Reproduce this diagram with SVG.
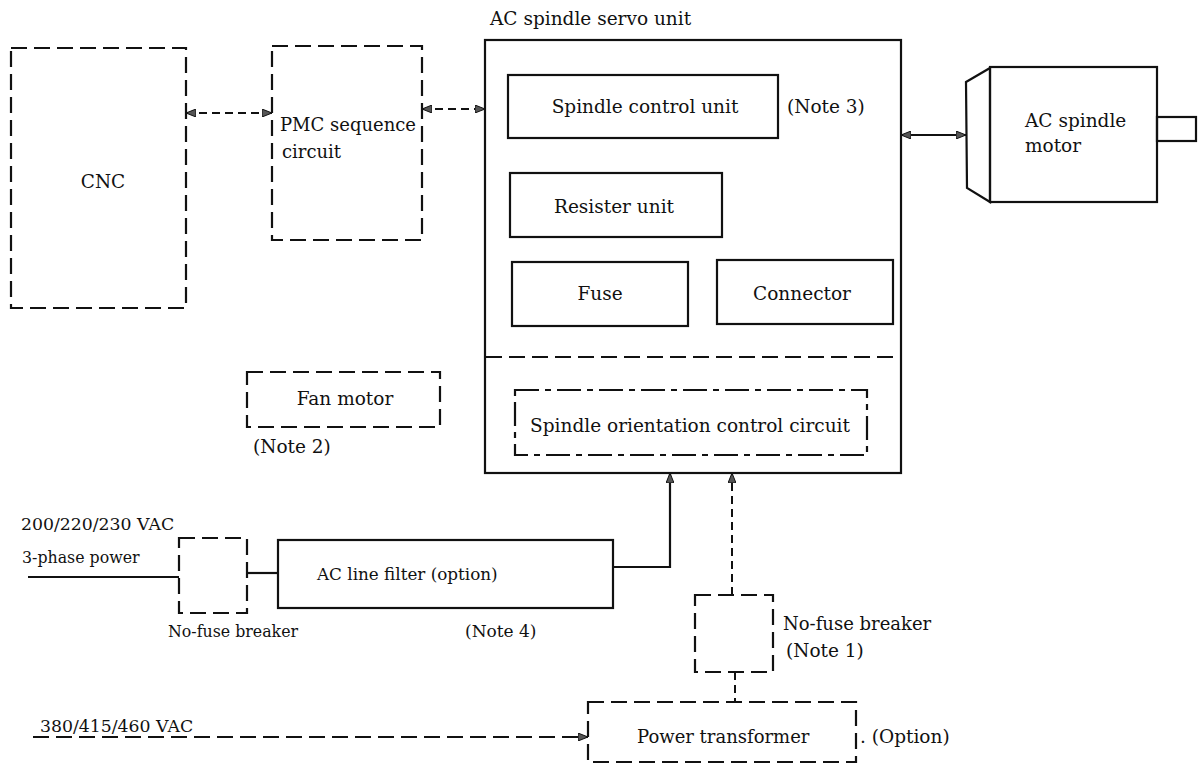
<svg xmlns="http://www.w3.org/2000/svg" width="1201" height="768" viewBox="0 0 1201 768">
<style>
text{font-family:"DejaVu Serif","Liberation Serif",serif;font-size:18.5px;fill:#111}
.s{fill:none;stroke:#111;stroke-width:2.2}
.d{fill:none;stroke:#111;stroke-width:2.2;stroke-dasharray:16 7}
.dd{fill:none;stroke:#111;stroke-width:2.2;stroke-dasharray:24 6 6 6}
.cd{fill:none;stroke:#111;stroke-width:2;stroke-dasharray:8 5}
.m{text-anchor:middle}
</style>
<defs>
<marker id="ah" viewBox="0 0 10 8" refX="10" refY="4" markerWidth="10" markerHeight="8" markerUnits="userSpaceOnUse" orient="auto-start-reverse">
<path d="M0,0 L10,4 L0,8 Z" fill="#555" stroke="#111" stroke-width="1"/>
</marker>
</defs>
<rect width="1201" height="768" fill="#fff"/>

<g id="cnc"><rect class="d" x="11" y="48" width="175" height="260"/><text class="m" x="103" y="188">CNC</text></g>
<g id="pmc"><rect class="d" x="272" y="46" width="150" height="194"/><text x="280" y="131" style="font-size:18px">PMC sequence</text><text x="282" y="158" style="font-size:18px">circuit</text></g>

<g id="servo">
<rect class="s" x="485" y="40" width="416" height="433"/>
<text x="490" y="25">AC spindle servo unit</text>
<line class="d" x1="486" y1="357" x2="900" y2="357"/>
</g>
<g id="spindle-control"><rect class="s" x="508" y="75" width="270" height="63"/><text class="m" x="645" y="113">Spindle control unit</text><text x="787" y="113">(Note 3)</text></g>
<g id="resister"><rect class="s" x="510" y="173" width="212" height="64"/><text class="m" x="614" y="213">Resister unit</text></g>
<g id="fuse"><rect class="s" x="512" y="262" width="176" height="64"/><text class="m" x="600" y="300">Fuse</text></g>
<g id="connector"><rect class="s" x="717" y="260" width="176" height="64"/><text class="m" x="802" y="300">Connector</text></g>
<g id="orientation"><rect class="dd" x="515" y="390" width="352" height="65"/><text class="m" x="690" y="432">Spindle orientation control circuit</text></g>

<g id="motor">
<path class="s" d="M966,82 L990,68 L990,202 L967,188 Z"/>
<rect class="s" x="990" y="67" width="167" height="135"/>
<rect class="s" x="1157" y="117" width="39" height="24"/>
<text x="1025" y="127">AC spindle</text><text x="1025" y="152">motor</text>
</g>

<g id="fan"><rect class="d" x="247" y="372" width="193" height="55"/><text class="m" x="345" y="405">Fan motor</text><text x="253" y="453">(Note 2)</text></g>

<g id="power-in"><text x="21" y="530" style="font-size:17.3px">200/220/230 VAC</text><text x="22" y="563" style="font-size:15.8px">3-phase power</text></g>
<g id="breaker1"><rect class="d" x="179" y="538" width="68" height="75"/><text x="168" y="637" style="font-size:15.8px">No-fuse breaker</text></g>
<g id="filter"><rect class="s" x="278" y="540" width="335" height="68"/><text x="317" y="580" style="font-size:16.8px">AC line filter (option)</text><text x="465" y="637" style="font-size:17px">(Note 4)</text></g>
<g id="breaker2"><rect class="d" x="695" y="595" width="78" height="77"/><text x="783" y="630" style="font-size:18px">No-fuse breaker</text><text x="786" y="657">(Note 1)</text></g>
<g id="transformer"><rect class="d" x="588" y="702" width="268" height="60"/><text x="637" y="743" style="font-size:18px">Power transformer</text><text x="860" y="743">. (Option)</text></g>
<g id="power-in2"><text x="40" y="732" style="font-size:17.3px">380/415/460 VAC</text></g>

<g id="connectors">
<line class="cd" x1="186" y1="113" x2="272" y2="113" marker-start="url(#ah)" marker-end="url(#ah)"/>
<line class="cd" x1="422" y1="109" x2="485" y2="109" marker-start="url(#ah)" marker-end="url(#ah)"/>
<line class="s" x1="901" y1="135" x2="966" y2="135" marker-start="url(#ah)" marker-end="url(#ah)"/>
<line class="s" x1="28" y1="577" x2="179" y2="577"/>
<line class="s" x1="247" y1="573" x2="278" y2="573"/>
<polyline class="s" points="613,567 670,567 670,473" marker-end="url(#ah)"/>
<line class="cd" x1="732" y1="595" x2="732" y2="473" marker-end="url(#ah)"/>
<line class="cd" x1="735" y1="672" x2="735" y2="702"/>
<line class="d" x1="33" y1="737" x2="588" y2="737" marker-end="url(#ah)"/>
</g>
</svg>
